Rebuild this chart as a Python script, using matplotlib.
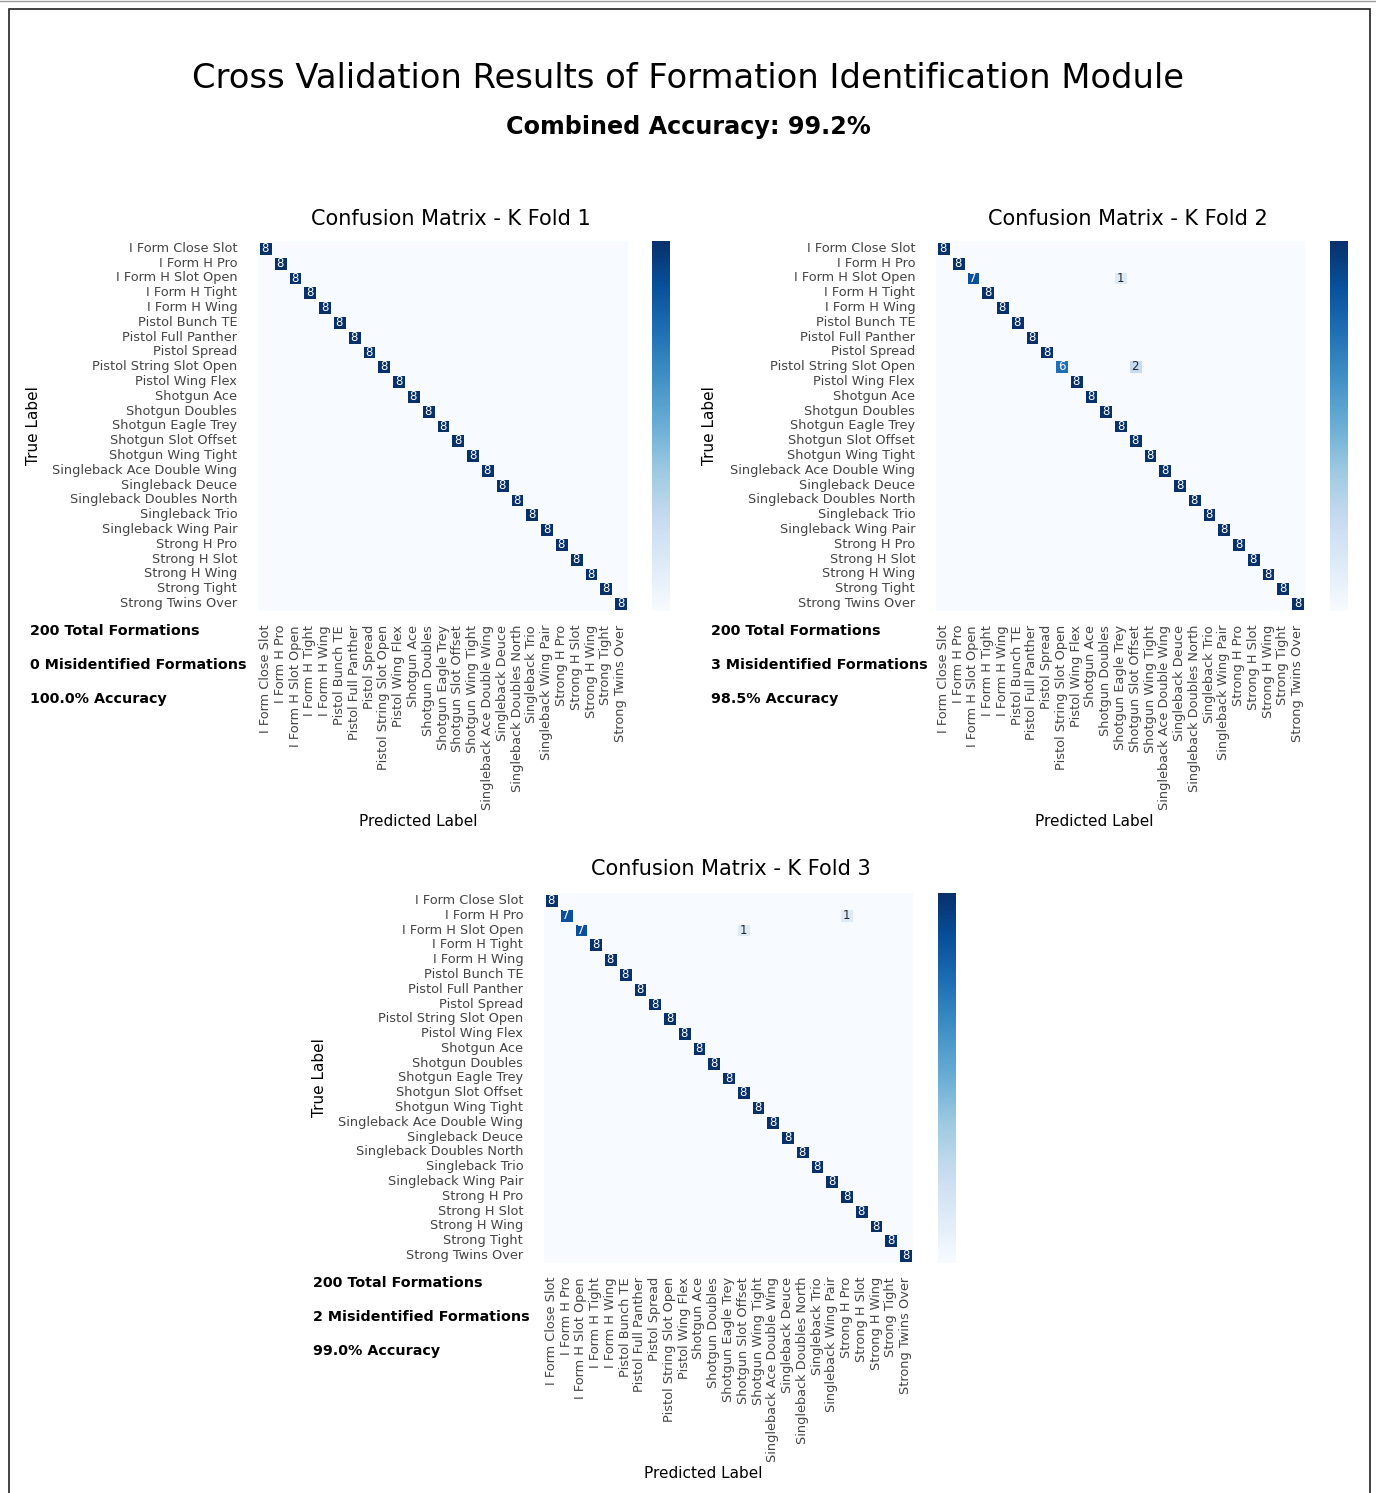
import matplotlib
matplotlib.use("Agg")
import matplotlib.pyplot as plt
import numpy as np
import seaborn as sns
from matplotlib.patches import Rectangle
from matplotlib.lines import Line2D

# formation classes (same order on both axes)
formations = [
    "I Form Close Slot", "I Form H Pro", "I Form H Slot Open", "I Form H Tight",
    "I Form H Wing", "Pistol Bunch TE", "Pistol Full Panther", "Pistol Spread",
    "Pistol String Slot Open", "Pistol Wing Flex", "Shotgun Ace", "Shotgun Doubles",
    "Shotgun Eagle Trey", "Shotgun Slot Offset", "Shotgun Wing Tight",
    "Singleback Ace Double Wing", "Singleback Deuce", "Singleback Doubles North",
    "Singleback Trio", "Singleback Wing Pair", "Strong H Pro", "Strong H Slot",
    "Strong H Wing", "Strong Tight", "Strong Twins Over",
]
n = len(formations)
per_class = 8

# misclassifications per fold: (true index, predicted index, count)
fold1_errors = []
fold2_errors = [(2, 12, 1), (8, 13, 2)]
fold3_errors = [(1, 20, 1), (2, 13, 1)]
fold_errors = [fold1_errors, fold2_errors, fold3_errors]


def build_cm(errors):
    cm = np.diag([per_class] * n)
    for t, p, c in errors:
        cm[t, t] -= c
        cm[t, p] += c
    return cm


W, H = 1376, 1493
fig = plt.figure(figsize=(W / 100, H / 100), dpi=100)


def box(x0, y0, x1, y1):
    return [x0 / W, 1 - y1 / H, (x1 - x0) / W, (y1 - y0) / H]


# pixel layout of each panel: heatmap box, colorbar x-range, label anchors
panels = [
    dict(hm=(258, 241, 628, 611), cb=(652, 670), title_x=451, xlab_x=418,
         ylab_x=33, stats_x=30),
    dict(hm=(936, 241, 1305, 611), cb=(1330, 1348), title_x=1128, xlab_x=1094,
         ylab_x=710, stats_x=711),
    dict(hm=(544, 893, 913, 1263), cb=(938, 956), title_x=731, xlab_x=703,
         ylab_x=320, stats_x=313),
]

tick_color = "#444444"
grid_color = plt.cm.Blues(0.0)
total_all = 0
correct_all = 0
for k, (pan, errs) in enumerate(zip(panels, fold_errors)):
    cm = build_cm(errs)
    x0, y0, x1, y1 = pan["hm"]
    ax = fig.add_axes(box(x0, y0, x1, y1))
    cax = fig.add_axes(box(pan["cb"][0], y0, pan["cb"][1], y1))
    annot = np.where(cm > 0, cm.astype(str), "")
    sns.heatmap(cm, ax=ax, cbar_ax=cax, cmap="Blues", annot=annot, fmt="",
                annot_kws={"fontsize": 8.5}, linewidths=0.8, linecolor=grid_color,
                xticklabels=formations, yticklabels=formations, square=False)
    ax.tick_params(length=0, labelsize=9.3, labelcolor=tick_color)
    ax.tick_params(axis="y", pad=15)
    ax.tick_params(axis="x", pad=10)
    ax.set_xticklabels(formations, rotation=90)
    ax.set_yticklabels(formations, rotation=0)
    cax.set_yticks([])

    fig.text(pan["title_x"] / W, 1 - 219 / H if k < 2 else 1 - 869 / H,
             f"Confusion Matrix - K Fold {k + 1}", ha="center", va="center",
             fontsize=15)
    xlab_y = 822 if k < 2 else 1473
    fig.text(pan["xlab_x"] / W, 1 - xlab_y / H, "Predicted Label",
             ha="center", va="center", fontsize=11)
    fig.text(pan["ylab_x"] / W, 1 - (y0 + y1) / 2 / H, "True Label",
             ha="center", va="center", fontsize=11, rotation=90)

    total = int(cm.sum())
    wrong = int(total - np.trace(cm))
    total_all += total
    correct_all += int(np.trace(cm))
    lines = [f"{total} Total Formations", f"{wrong} Misidentified Formations",
             f"{100 * (total - wrong) / total:.1f}% Accuracy"]
    for i, s in enumerate(lines):
        fig.text(pan["stats_x"] / W, 1 - (y1 + 20 + 34 * i) / H, s,
                 ha="left", va="center", fontsize=10.25, fontweight="bold")

fig.text(0.5, 1 - 79 / H,
         "Cross Validation Results of Formation Identification Module",
         ha="center", va="center", fontsize=24.3)
fig.text(0.5, 1 - 127 / H,
         f"Combined Accuracy: {100 * correct_all / total_all:.1f}%",
         ha="center", va="center", fontsize=17.2, fontweight="bold")

# outer frame
fig.patches.append(Rectangle((8.5 / W, -0.05), (1370 - 8.5) / W, 1.05 - 9 / H,
                             transform=fig.transFigure, fill=False,
                             edgecolor="#222222", linewidth=1.2))
fig.lines.append(Line2D([0, 1], [1 - 0.5 / H, 1 - 0.5 / H],
                        transform=fig.transFigure, color="#999999", linewidth=1))

fig.savefig("out.png", dpi=100)
